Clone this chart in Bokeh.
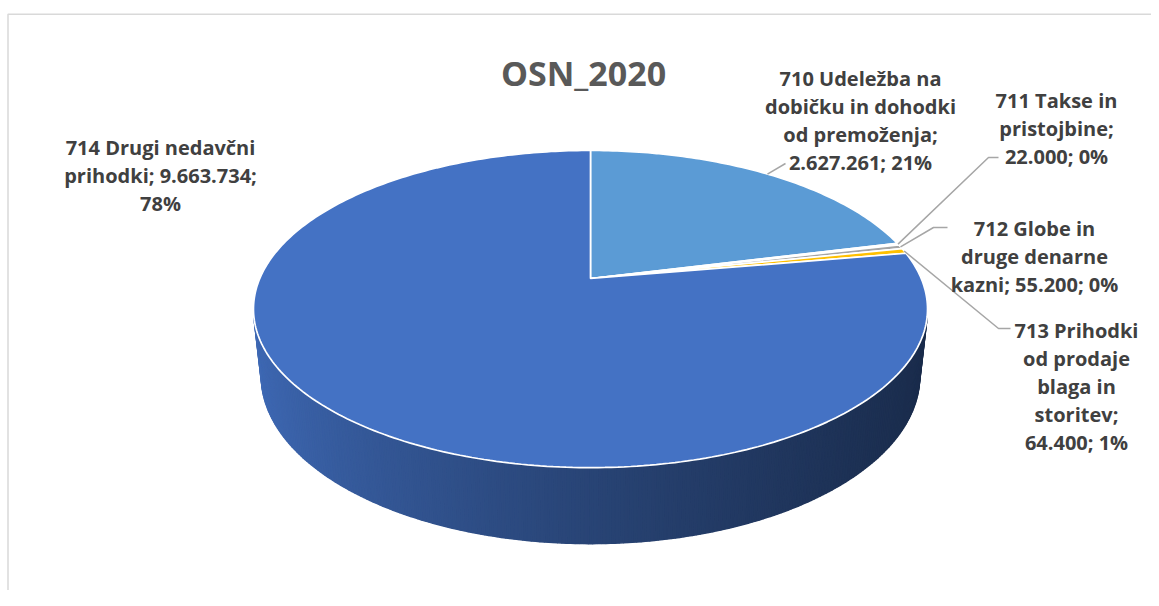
import numpy as np
from bokeh.plotting import figure
from bokeh.models import Range1d
from bokeh.embed import file_html
from bokeh.resources import INLINE
from bokeh.core.properties import value

# ---------------- data ----------------
title_text = "OSN_2020"
categories = [
    "710 Udeležba na dobičku in dohodki od premoženja",
    "711 Takse in pristojbine",
    "712 Globe in druge denarne kazni",
    "713 Prihodki od prodaje blaga in storitev",
    "714 Drugi nedavčni prihodki",
]
values = [2627261, 22000, 55200, 64400, 9663734]
colors = ["#5B9BD5", "#DCDCDC", "#A5A5A5", "#FFC000", "#4472C4"]

# ---------------- layout / style ----------------
W, H = 1151, 590
words_per_line = [[3, 3, 2, 2], [3, 1, 2], [3, 2, 3], [2, 2, 2, 1, 2], [3, 2, 1]]
label_centers = [(860, 78), (1056, 100), (1034, 228), (1076, 330), (160, 147)]
leader_elbows = [[(785, 163)], [(988, 157), (998, 157)], [(933, 227), (947, 227)],
                 [(998, 328), (1010, 328)], []]
LINE_H = 28
FONT = value("Open Sans")

# 3D projection of the pie (unit radius)
CX, CY = 590.0, 278.0
E = np.radians(27.5)
DIST = 4.608
FOC = 1524.0
DEPTH = 0.23


def proj(X, Y, Z):
    yc = Y * np.sin(E) + Z * np.cos(E)
    zc = DIST + Y * np.cos(E) - Z * np.sin(E)
    return CX + FOC * X / zc, CY - FOC * yc / zc


def rim(theta, z=0.0):
    return proj(np.sin(theta), np.cos(theta), z)


p = figure(width=W, height=H, x_range=Range1d(0, W), y_range=Range1d(H, 0),
           output_backend="svg", toolbar_location=None, min_border=0)
p.xaxis.visible = False
p.yaxis.visible = False
p.xgrid.visible = False
p.ygrid.visible = False
p.outline_line_color = None
p.background_fill_color = "white"

# chart area border
p.quad(left=7.5, right=1300, top=13.75, bottom=800, fill_color=None,
       line_color="#D9D9D9", line_width=1.5)

total = float(sum(values))
fracs = np.array(values) / total
cum = np.concatenate([[0.0], np.cumsum(fracs)])
th0 = 2 * np.pi * cum[:-1]
th1 = 2 * np.pi * cum[1:]


def hex_to_rgb(h):
    h = h.lstrip("#")
    return np.array([int(h[i:i + 2], 16) for i in (0, 2, 4)], dtype=float)


# ---- side wall (visible front part) ----
t_lo = np.arccos(-1.0 / (DIST * np.cos(E)))
t_hi = 2 * np.pi - t_lo
edges = np.linspace(t_lo, t_hi, 240)
sx, sy, sc = [], [], []
for a, b in zip(edges[:-1], edges[1:]):
    mid = 0.5 * (a + b)
    k = int(np.searchsorted(cum * 2 * np.pi, mid, side="right") - 1)
    k = min(max(k, 0), len(values) - 1)
    s = -np.sin(mid)
    f = 0.6 + 0.275 * s + 0.055 * s * s
    rgb = np.clip(hex_to_rgb(colors[k]) * f, 0, 255).astype(int)
    c = "#%02x%02x%02x" % tuple(rgb)
    xa, ya = rim(a)
    xb, yb = rim(b)
    xc, yc_ = rim(b, -DEPTH)
    xd, yd = rim(a, -DEPTH)
    sx.append([xa, xb, xc, xd])
    sy.append([ya, yb, yc_, yd])
    sc.append(c)
p.patches(xs=sx, ys=sy, fill_color=sc, line_color=sc, line_width=1.6)

# ---- top face slices ----
ax, ay = proj(0.0, 0.0, 0.0)
txs, tys = [], []
for a, b in zip(th0, th1):
    n = max(4, int((b - a) / (2 * np.pi) * 400))
    t = np.linspace(a, b, n)
    xr, yr = rim(t)
    txs.append(list(np.concatenate([[ax], xr])))
    tys.append(list(np.concatenate([[ay], yr])))
p.patches(xs=txs, ys=tys, fill_color=colors, line_color="white", line_width=1.7)

# ---- title ----
p.text(x=[583], y=[72], text=[title_text], text_font=FONT, text_font_style="bold",
       text_font_size="34px", text_color="#595959", text_align="center",
       text_baseline="alphabetic")

# ---- leader lines and labels ----
lx, ly, tx, ty, tt = [], [], [], [], []
for i, cat in enumerate(categories):
    pct = int(round(values[i] / total * 100))
    full = "%s; %s; %d%%" % (cat, "{:,}".format(values[i]).replace(",", "."), pct)
    words = full.split(" ")
    pos = 0
    cx0, by0 = label_centers[i]
    for j, nw in enumerate(words_per_line[i]):
        tt.append(" ".join(words[pos:pos + nw]))
        pos += nw
        tx.append(cx0)
        ty.append(by0 + j * LINE_H)
    if leader_elbows[i]:
        mx, my = rim(0.5 * (th0[i] + th1[i]))
        pts = [(mx, my)] + leader_elbows[i]
        lx.append([q[0] for q in pts])
        ly.append([q[1] for q in pts])

p.multi_line(xs=lx, ys=ly, line_color="#A6A6A6", line_width=1.5)
p.text(x=tx, y=ty, text=tt, text_font=FONT, text_font_style="bold",
       text_font_size="20px", text_color="#404040", text_align="center",
       text_baseline="alphabetic")

open("out.html", "w").write(file_html(p, INLINE))
